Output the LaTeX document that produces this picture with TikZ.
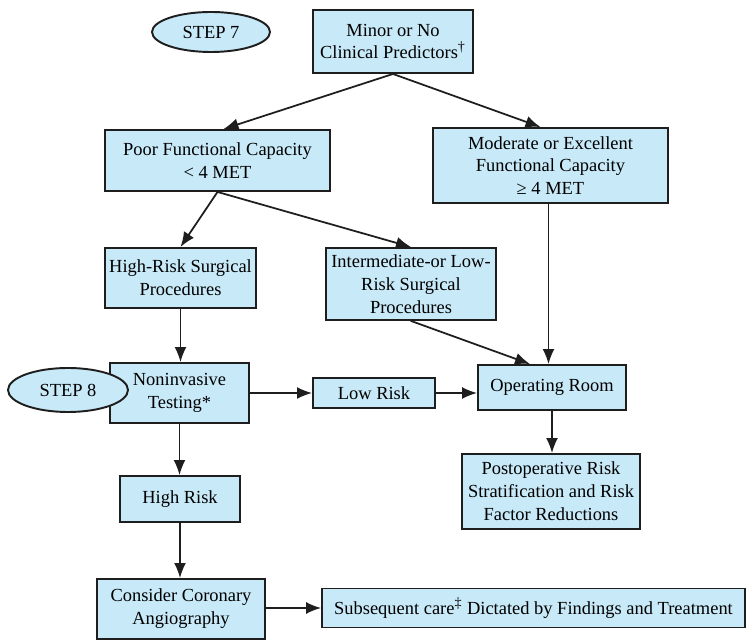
\documentclass[tikz,border=0pt]{standalone}
\usepackage{fontspec}
\setmainfont{Liberation Serif}
\usetikzlibrary{arrows.meta,shapes.geometric}
\definecolor{boxblue}{RGB}{200,233,248}
\definecolor{inkline}{RGB}{30,30,30}

\begin{document}
\begin{tikzpicture}[x=0.02cm,y=-0.02cm,>={Latex[length=3mm,width=2.4mm]},
  font=\fontsize{10.5}{13}\selectfont,line cap=round,
  box/.style={draw=inkline,fill=boxblue,line width=1.1pt,align=center,inner sep=1pt},
  stepoval/.style={draw=inkline,fill=boxblue,line width=1.1pt,ellipse,inner sep=0pt},
  arr/.style={->,draw=inkline,line width=1pt}]
\useasboundingbox (0,0) rectangle (747,641);
% decision boxes
\node[box,minimum width=3.2cm,minimum height=1.26cm] (minor) at (393,41.5) {Minor or No\\Clinical Predictors{\fontsize{12}{13}\selectfont\textsuperscript{\textdagger}}};
\node[stepoval,minimum width=2.36cm,minimum height=0.8cm] (step7) at (211,32) {STEP 7};
\node[box,minimum width=4.5cm,minimum height=1.22cm] (poor) at (217.5,160.5) {Poor Functional Capacity\\< 4 MET};
\node[box,minimum width=4.7cm,minimum height=1.5cm] (moder) at (550.5,165.5) {Moderate or Excellent\\Functional Capacity\\≥ 4 MET};
\node[box,minimum width=3.02cm,minimum height=1.2cm] (hisurg) at (180.5,278) {High-Risk Surgical\\Procedures};
\node[box,minimum width=3.4cm,minimum height=1.44cm] (losurg) at (411,284) {Intermediate-or Low-\\Risk Surgical\\Procedures};
\node[box,minimum width=2.78cm,minimum height=1.2cm] (noninv) at (179.5,393) {Noninvasive\\Testing*};
\node[stepoval,minimum width=2.4cm,minimum height=0.88cm] (step8) at (68,390) {STEP 8};
\node[box,minimum width=2.44cm,minimum height=0.6cm] (lowrisk) at (374,393) {Low Risk};
\node[box,minimum width=2.96cm,minimum height=0.9cm] (oproom) at (552,387.5) {Operating Room};
\node[box,minimum width=3.56cm,minimum height=1.5cm] (postop) at (551,491.5) {Postoperative Risk\\Stratification and Risk\\Factor Reductions};
\node[box,minimum width=2.4cm,minimum height=0.92cm] (hirisk) at (180,499) {High Risk};
\node[box,minimum width=3.36cm,minimum height=1.2cm] (corang) at (181,609) {Consider Coronary\\Angiography};
\node[box,minimum width=8.46cm,minimum height=0.78cm] (subseq) at (533.5,608) {Subsequent care{\fontsize{12}{13}\selectfont\textsuperscript{\textdaggerdbl}} Dictated by Findings and Treatment};
% connectors
\draw[arr] (minor.south) -- ([xshift=0.12cm]poor.north);
\draw[arr] (minor.south) -- ([xshift=-0.2cm]moder.north);
\draw[arr] (poor.south) -- (hisurg.north);
\draw[arr] (poor.south) -- (losurg.north);
\draw[arr] (hisurg.south) -- (hisurg.south |- noninv.north);
\draw[arr] (losurg.south) -- ([xshift=-0.44cm]oproom.north);
\draw[arr] ([xshift=-0.04cm]moder.south) -- ([xshift=-0.04cm]moder.south |- oproom.north);
\draw[arr] (noninv.east) -- (lowrisk.west);
\draw[arr] (lowrisk.east) -- (lowrisk.east -| oproom.west);
\draw[arr] (oproom.south) -- (oproom.south |- postop.north);
\draw[arr] (noninv.south) -- (noninv.south |- hirisk.north);
\draw[arr] (hirisk.south) -- (hirisk.south |- corang.north);
\draw[arr] (corang.east |- subseq.west) -- (subseq.west);
\end{tikzpicture}
\end{document}
